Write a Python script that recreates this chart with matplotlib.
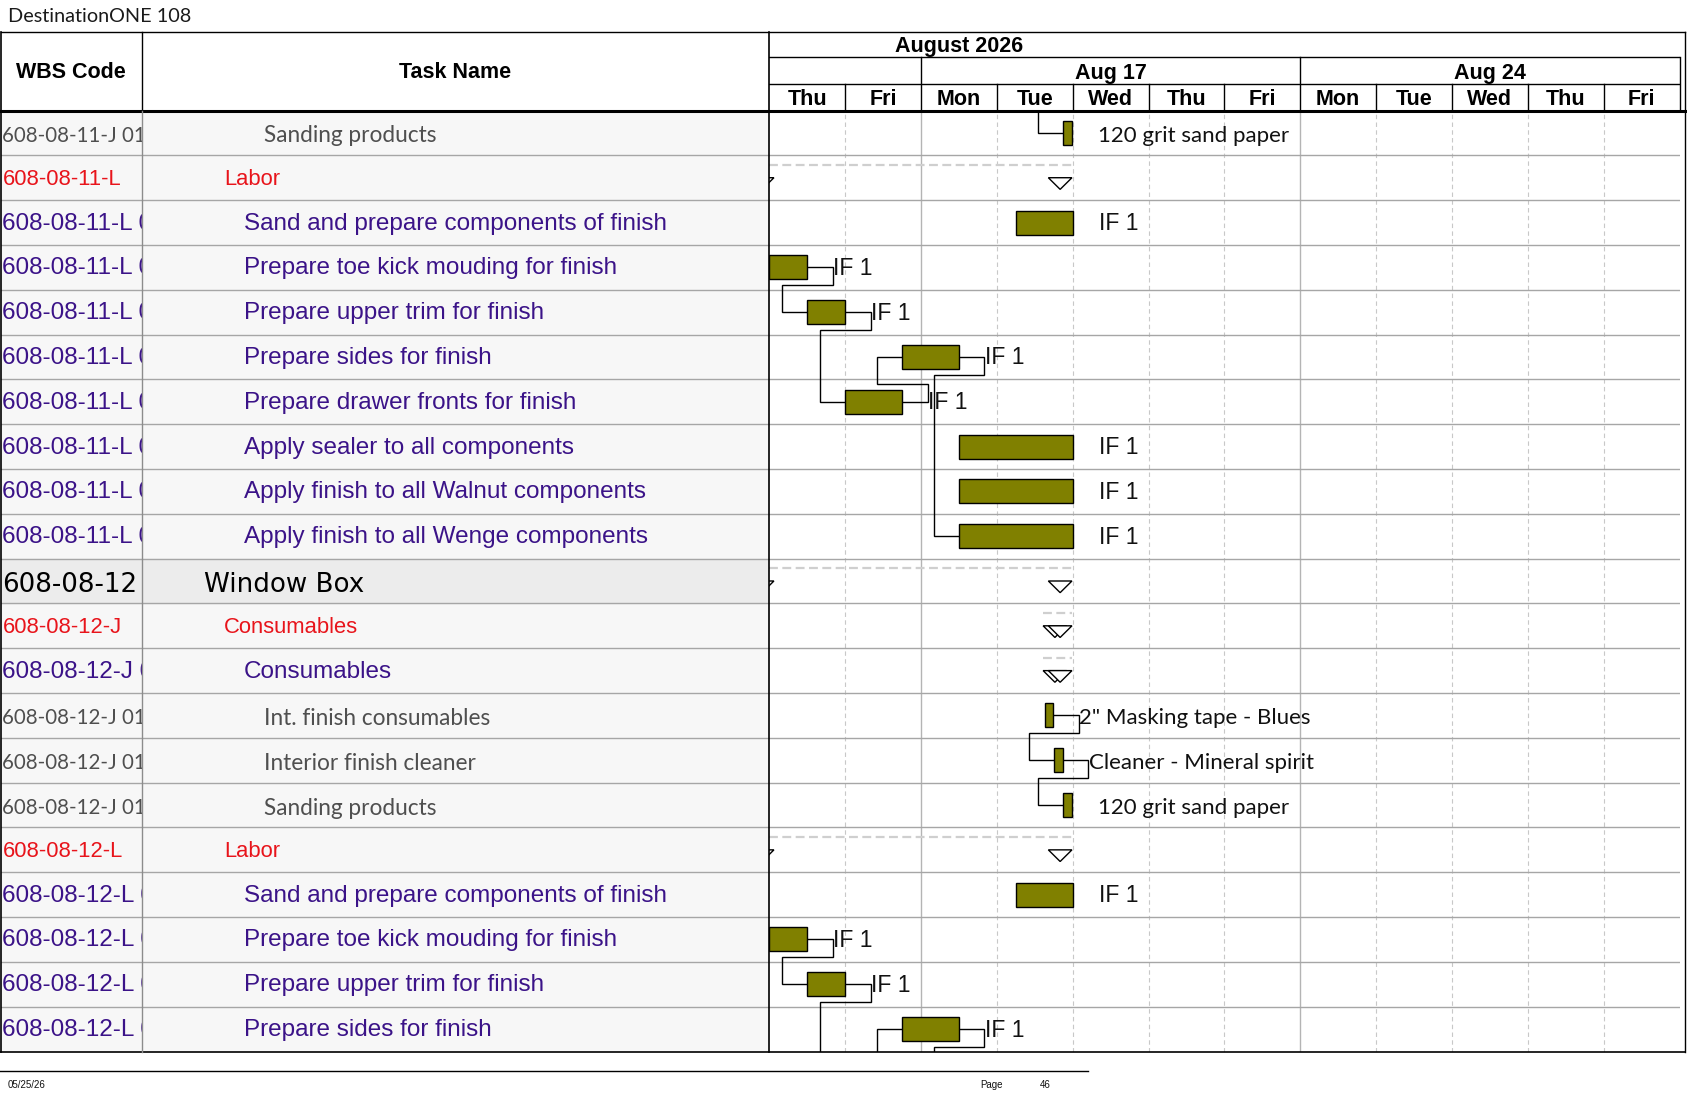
import matplotlib
matplotlib.use("Agg")
import matplotlib.pyplot as plt
from matplotlib.patches import Rectangle, Polygon

# ---- data ----
title = "DestinationONE 108"
month_label = "August 2026"
day_names = ["Thu", "Fri", "Mon", "Tue", "Wed", "Thu", "Fri", "Mon", "Tue", "Wed", "Thu", "Fri"]
week_labels = ["", "Aug 17", "Aug 24"]
week_starts = [0, 2, 7]
week_ends = [2, 7, 12]

wbs_codes = [
    "608-08-11-J 01.03", "608-08-11-L", "608-08-11-L 01.01", "608-08-11-L 01.02",
    "608-08-11-L 01.03", "608-08-11-L 01.04", "608-08-11-L 01.05", "608-08-11-L 01.06",
    "608-08-11-L 01.07", "608-08-11-L 01.08", "608-08-12", "608-08-12-J",
    "608-08-12-J 01", "608-08-12-J 01.01", "608-08-12-J 01.02", "608-08-12-J 01.03",
    "608-08-12-L", "608-08-12-L 01.01", "608-08-12-L 01.02", "608-08-12-L 01.03",
    "608-08-12-L 01.04",
]
task_names = [
    "Sanding products", "Labor", "Sand and prepare components of finish",
    "Prepare toe kick mouding for finish", "Prepare upper trim for finish",
    "Prepare sides for finish", "Prepare drawer fronts for finish",
    "Apply sealer to all components", "Apply finish to all Walnut components",
    "Apply finish to all Wenge components", "Window Box", "Consumables", "Consumables",
    "Int. finish consumables", "Interior finish cleaner", "Sanding products", "Labor",
    "Sand and prepare components of finish", "Prepare toe kick mouding for finish",
    "Prepare upper trim for finish", "Prepare sides for finish",
]
levels = ["res", "sum", "task", "task", "task", "task", "task", "task", "task", "task",
          "top", "sum", "task", "res", "res", "res", "sum", "task", "task", "task", "task"]
bar_types = ["bar", "summary", "bar", "bar", "bar", "bar", "bar", "bar", "bar", "bar",
             "summary", "summary", "summary", "bar", "bar", "bar", "summary", "bar", "bar", "bar", "bar"]
# working days from Thu Aug 13
starts = [3.875, -0.25, 3.25, 0.0, 0.5, 1.75, 1.0, 2.5, 2.5, 2.5,
          -0.25, 3.61, 3.61, 3.63, 3.755, 3.875, -0.25, 3.25, 0.0, 0.5, 1.75]
ends = [3.99, 3.99, 4.0, 0.5, 1.0, 2.5, 1.75, 4.0, 4.0, 4.0,
        3.99, 3.99, 3.99, 3.745, 3.87, 3.99, 3.99, 4.0, 0.5, 1.0, 2.5]
bar_labels = ["120 grit sand paper", "", "IF 1", "IF 1", "IF 1", "IF 1", "IF 1", "IF 1", "IF 1", "IF 1",
              "", "", "", '2" Masking tape - Blues', "Cleaner - Mineral spirit", "120 grit sand paper",
              "", "IF 1", "IF 1", "IF 1", "IF 1"]

# tasks just outside the printed page that links run to
off_rows = [-1, 21, 24]
off_starts = [3.755, 1.0, 2.5]
off_ends = [3.87, 1.75, 4.0]

links = [(-1, 0), (3, 4), (4, 6), (6, 5), (5, 9), (13, 14), (14, 15),
         (18, 19), (19, 21), (21, 20), (20, 24)]

footer_date = "05/25/26"
page_no = "46"

# ---- layout (pixels) ----
W, H = 1687, 1097
HEAD_TOP, MONTH_BOT, WEEK_BOT, BODY_TOP, BODY_BOT = 31.7, 57.3, 84.3, 110.5, 1051.5
LEFT, WBS_RIGHT, CHART_X0, CHART_X1, RIGHT = 1.0, 141.7, 769.3, 1679.5, 1685.0

n_rows = len(task_names)
n_days = len(day_names)
ROW_PX = (BODY_BOT - BODY_TOP) / n_rows

ARIAL = "Liberation Sans"
text_styles = {
    "top": dict(family="DejaVu Sans", size=18.8, color="black"),
    "sum": dict(family=ARIAL, size=15.8, color="#e8141b"),
    "task": dict(family=ARIAL, size=17.5, color="#3b1388"),
    "res": dict(family="Lato", size=16.3, color="#4f4f4f"),
}
text_shift = {"top": 4, "sum": 1.5, "task": 1, "res": 3}  # px, font baseline tweak
indents = {"top": 204, "sum": 224, "task": 244, "res": 264}
BAR_COLOR = "#808000"

fig = plt.figure(figsize=(W / 100, H / 100), dpi=100)


def px_axes(x0, y0, x1, y1, z=0, fc="white"):
    ax = fig.add_axes([x0 / W, 1 - y1 / H, (x1 - x0) / W, (y1 - y0) / H], zorder=z)
    ax.set_xticks([])
    ax.set_yticks([])
    for s in ax.spines.values():
        s.set_visible(False)
    ax.set_facecolor(fc)
    return ax


# ---- table ----
wbs_ax = px_axes(LEFT, BODY_TOP, WBS_RIGHT, BODY_BOT, fc="#f7f7f7")
wbs_ax.set_xlim(LEFT, WBS_RIGHT)
name_ax = px_axes(WBS_RIGHT, BODY_TOP, CHART_X0, BODY_BOT, fc="#f7f7f7")
name_ax.set_xlim(WBS_RIGHT, CHART_X0)
for ax in (wbs_ax, name_ax):
    ax.set_ylim(n_rows, 0)
    for r in range(1, n_rows):
        ax.axhline(r, color="#a6a6a6", lw=1)
for r, lvl in enumerate(levels):
    if lvl == "top":
        for ax in (wbs_ax, name_ax):
            ax.axhspan(r, r + 1, color="#ececec", zorder=0)
    st = text_styles[lvl]
    y = r + 0.5 + text_shift[lvl] / ROW_PX
    wbs_st = dict(st)
    if lvl == "res":
        wbs_st["size"] = 14.8  # narrow digits in the code column
    wbs_ax.text(LEFT + 1.5, y, wbs_codes[r], va="center", ha="left", clip_on=True, **wbs_st)
    name_ax.text(indents[lvl], y, task_names[r], va="center", ha="left", clip_on=True, **st)

# ---- gantt body ----
gx = px_axes(CHART_X0, BODY_TOP, CHART_X1, BODY_BOT, z=1)
gx.set_xlim(0, n_days)
gx.set_ylim(n_rows, 0)
for d in range(1, n_days):
    if d in week_starts:
        gx.axvline(d, color="#b4b4b4", lw=1, zorder=0)
    else:
        gx.axvline(d, color="#c8c8c8", lw=0.8, ls=(0, (4, 3)), zorder=0)
for r in range(1, n_rows):
    gx.axhline(r, color="#a6a6a6", lw=1, zorder=0)

TRI_W = 0.311
for r in range(n_rows):
    s, e = starts[r], ends[r]
    if bar_types[r] == "summary":
        gx.plot([max(s, 0), e], [r + 0.22, r + 0.22], color="#cfcfcf", lw=1.6,
                ls=(0, (4, 2)), zorder=1)
        for x0 in (s, e - TRI_W):
            tri = Polygon([(x0, r + 0.5), (x0 + TRI_W, r + 0.5), (x0 + TRI_W / 2, r + 0.76)],
                          closed=True, facecolor="white", edgecolor="black", lw=1, zorder=3)
            gx.add_patch(tri)
    else:
        gx.add_patch(Rectangle((s, r + 0.232), e - s, 0.536, facecolor=BAR_COLOR,
                               edgecolor="black", lw=1, zorder=3))
        lbl = bar_labels[r]
        is_if = lbl.startswith("IF")
        gx.text(e + 0.343, r + 0.5 + (1 if is_if else 3) / ROW_PX, lbl, va="center", ha="left",
                family=ARIAL if is_if else "Lato", size=16.5 if is_if else 16,
                color="#111111", clip_on=True, zorder=4)

# link lines (finish-to-start)
all_rows = list(range(n_rows)) + off_rows
all_starts = starts + off_starts
all_ends = ends + off_ends
for a, b in links:
    a_end = all_ends[all_rows.index(a)]
    b_start = all_starts[all_rows.index(b)]
    ya, yb = a + 0.5, b + 0.5
    dy = 0.395 if b > a else -0.4
    xr = a_end + 0.336
    xl = b_start - 0.33
    gx.plot([a_end, xr, xr, xl, xl, b_start], [ya, ya, ya + dy, ya + dy, yb, yb],
            color="black", lw=1, zorder=2, solid_joinstyle="miter")

# ---- timescale header ----
hx = px_axes(CHART_X0, HEAD_TOP, CHART_X1, BODY_TOP, z=1)
hx.set_xlim(0, n_days)
hx.set_ylim(BODY_TOP, HEAD_TOP)
hx.axhline(MONTH_BOT, color="black", lw=1)
hx.axhline(WEEK_BOT, color="black", lw=1)
for d in range(1, n_days + 1):
    top = MONTH_BOT if (d in week_starts or d == n_days) else WEEK_BOT
    hx.plot([d, d], [top, BODY_TOP], color="black", lw=1, clip_on=False)
hdr = dict(family=ARIAL, weight="bold", size=15.5, ha="center", va="center", color="black")
hx.text(2.5, 46.8, month_label, **hdr)
for lab, s, e in zip(week_labels, week_starts, week_ends):
    hx.text((s + e) / 2, 73.3, lab, **hdr)
for i, dn in enumerate(day_names):
    hx.text(i + 0.5, 99.8, dn, **hdr)

# ---- frame, title, footer ----
ov = px_axes(0, 0, W, H, z=5, fc="none")
ov.set_xlim(0, W)
ov.set_ylim(H, 0)
ov.plot([LEFT, RIGHT], [HEAD_TOP, HEAD_TOP], color="black", lw=1)
ov.plot([0, RIGHT], [BODY_TOP, BODY_TOP], color="black", lw=2.2)
ov.plot([0, RIGHT], [BODY_BOT, BODY_BOT], color="black", lw=1.2)
ov.plot([LEFT, LEFT], [HEAD_TOP, BODY_BOT], color="black", lw=1.2)
ov.plot([CHART_X0, CHART_X0], [HEAD_TOP, BODY_BOT], color="black", lw=1.2)
ov.plot([RIGHT, RIGHT], [HEAD_TOP, BODY_BOT], color="black", lw=1)
ov.plot([WBS_RIGHT, WBS_RIGHT], [HEAD_TOP, BODY_TOP], color="black", lw=1)
ov.plot([WBS_RIGHT, WBS_RIGHT], [BODY_TOP, BODY_BOT], color="#8c8c8c", lw=1)
ov.text(71, 72.5, "WBS Code", **hdr)
ov.text((WBS_RIGHT + CHART_X0) / 2, 72.5, "Task Name", **hdr)
ov.text(8, 16.5, title, family="Lato", size=14.3, color="#1a1a1a",
        ha="left", va="center")
ov.plot([0, 1088], [1070.7, 1070.7], color="black", lw=1)
small = dict(family=ARIAL, size=7, color="#111111", va="center", ha="left")
ov.text(8, 1085, footer_date, **small)
ov.text(980, 1085, "Page", **small)
ov.text(1040, 1085, page_no, **small)

fig.savefig("out.png", dpi=100)
